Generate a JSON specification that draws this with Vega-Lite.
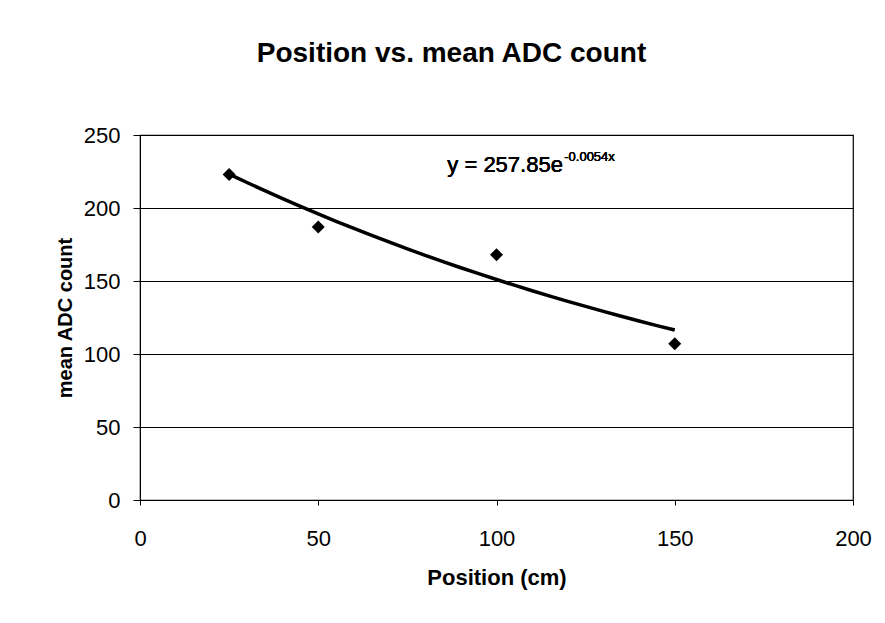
{
  "$schema": "https://vega.github.io/schema/vega-lite/v6.json",
  "autosize": "none",
  "width": 713,
  "height": 365,
  "padding": {"left": 140, "top": 135, "right": 32, "bottom": 123},
  "background": "white",
  "config": {
    "font": "Liberation Sans",
    "view": {"stroke": "black", "strokeWidth": 1.2},
    "axis": {"labelColor": "black", "titleColor": "black", "domainColor": "black", "tickColor": "black", "gridColor": "black", "gridOpacity": 1, "gridWidth": 1, "labelFont": "Liberation Sans", "titleFont": "Liberation Sans"}
  },
  "title": {
    "text": "Position vs. mean ADC count",
    "font": "Liberation Sans",
    "fontSize": 28,
    "fontWeight": "bold",
    "color": "black",
    "baseline": "alphabetic",
    "offset": 34,
    "dx": -45
  },
  "data": {
    "values": [
      {"position": 25, "adc": 223},
      {"position": 50, "adc": 187},
      {"position": 100, "adc": 168},
      {"position": 150, "adc": 107}
    ]
  },
  "layer": [
    {
      "transform": [{"regression": "adc", "on": "position", "method": "exp", "extent": [25, 150]}],
      "mark": {"type": "line", "color": "black", "strokeWidth": 3.5},
      "encoding": {
        "x": {"field": "position", "type": "quantitative"},
        "y": {"field": "adc", "type": "quantitative"}
      }
    },
    {
      "mark": {"type": "point", "shape": "diamond", "filled": true, "color": "black", "size": 170, "opacity": 1},
      "encoding": {
        "x": {
          "field": "position", "type": "quantitative",
          "scale": {"domain": [0, 200], "nice": false, "zero": true},
          "axis": {"values": [0, 50, 100, 150, 200], "grid": false, "tickSize": 5, "labelPadding": 23, "labelFontSize": 22, "title": "Position (cm)", "titleFontSize": 22, "titleFontWeight": "bold", "titlePadding": 18, "labelFlush": false}
        },
        "y": {
          "field": "adc", "type": "quantitative",
          "scale": {"domain": [0, 250], "nice": false},
          "axis": {"values": [0, 50, 100, 150, 200, 250], "grid": true, "tickSize": 7, "labelPadding": 13, "labelFontSize": 22, "title": "mean ADC count", "titleFontSize": 20, "titleFontWeight": "bold", "titlePadding": 8}
        }
      }
    },
    {
      "mark": {"type": "text", "text": "y = 257.85e", "align": "left", "baseline": "alphabetic", "fontSize": 22, "fontWeight": "normal", "font": "Liberation Sans", "color": "black"},
      "encoding": {
        "x": {"datum": 86.2, "type": "quantitative"},
        "y": {"datum": 224.7, "type": "quantitative"}
      }
    },
    {
      "mark": {"type": "text", "text": "-0.0054x", "align": "left", "baseline": "alphabetic", "fontSize": 13, "fontWeight": "normal", "font": "Liberation Sans", "color": "black"},
      "encoding": {
        "x": {"datum": 119.0, "type": "quantitative"},
        "y": {"datum": 232.5, "type": "quantitative"}
      }
    }
  ]
}
